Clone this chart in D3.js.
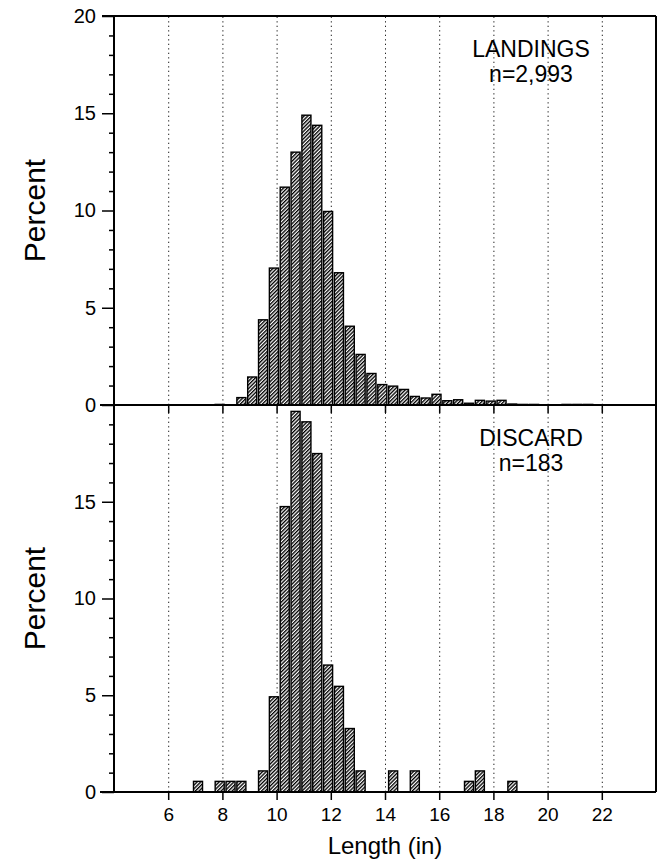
<!DOCTYPE html>
<html><head><meta charset="utf-8">
<script src="https://cdn.jsdelivr.net/npm/d3@7/dist/d3.min.js"></script>
<style>
body{margin:0;background:#fff}
svg text{font-family:"Liberation Sans",Arial,sans-serif;fill:#000}
</style>
</head><body>
<svg id="chart" width="661" height="861"></svg>
<script>
// ---- data ----
const binWidth = 0.4;
const landingsLength = [7.9, 8.7, 9.1, 9.5, 9.9, 10.3, 10.7, 11.1, 11.5, 11.9, 12.3, 12.7, 13.1, 13.5, 13.9, 14.3, 14.7, 15.1, 15.5, 15.9, 16.3, 16.7, 17.1, 17.5, 17.9, 18.3, 18.7, 19.1, 19.5, 20.7, 21.1, 21.5];
const landingsPercent = [0.03, 0.38, 1.44, 4.38, 7.04, 11.2, 13.0, 14.9, 14.38, 9.95, 6.8, 4.05, 2.6, 1.62, 1.05, 0.97, 0.8, 0.44, 0.36, 0.55, 0.22, 0.27, 0.09, 0.24, 0.2, 0.24, 0.05, 0.03, 0.03, 0.03, 0.03, 0.03];
const discardLength = [7.1, 7.9, 8.3, 8.7, 9.5, 9.9, 10.3, 10.7, 11.1, 11.5, 11.9, 12.3, 12.7, 13.1, 14.3, 15.1, 17.1, 17.5, 18.7];
const discardPercent = [0.55, 0.55, 0.55, 0.55, 1.09, 4.92, 14.75, 19.67, 19.13, 17.49, 6.56, 5.46, 3.28, 1.09, 1.09, 1.09, 0.55, 1.09, 0.55];
const xTickValues = [6, 8, 10, 12, 14, 16, 18, 20, 22];
const yMajorTop = [0, 5, 10, 15, 20];
const yMajorBottom = [0, 5, 10, 15];
const yMinor = d3.range(0, 21).filter(v => v % 5 !== 0);
const panelTitle = ["LANDINGS", "DISCARD"];
const panelCount = ["n=2,993", "n=183"];
const xLabel = "Length (in)";
const yLabel = "Percent";

// ---- layout ----
const svg = d3.select("#chart");
const L = 114, R = 656;
const panels = [
  {top: 16, bottom: 405, len: landingsLength, pct: landingsPercent, major: yMajorTop, title: panelTitle[0], n: panelCount[0]},
  {top: 405, bottom: 792, len: discardLength, pct: discardPercent, major: yMajorBottom, title: panelTitle[1], n: panelCount[1]}
];
const x = d3.scaleLinear().domain([4, 24]).range([L, R]);

const defs = svg.append("defs");
const pat = defs.append("pattern").attr("id", "hatch")
  .attr("patternUnits", "userSpaceOnUse").attr("width", 2.6).attr("height", 10)
  .attr("patternTransform", "rotate(45)");
pat.append("rect").attr("width", 2.6).attr("height", 10).attr("fill", "#fff");
pat.append("rect").attr("x", 0).attr("width", 1.35).attr("height", 10).attr("fill", "#000");

panels.forEach((p, i) => {
  const y = d3.scaleLinear().domain([0, 20]).range([p.bottom, p.top]);
  const g = svg.append("g");

  // gridlines
  g.append("g").attr("transform", `translate(0,${p.bottom})`)
    .call(d3.axisBottom(x).tickValues(xTickValues).tickSize(-(p.bottom - p.top)).tickFormat(""))
    .call(a => a.select(".domain").remove())
    .call(a => a.selectAll("line").attr("stroke", "#222").attr("stroke-width", 1).attr("stroke-dasharray", "1.3,3.2"));

  // bars
  const bw = x(binWidth) - x(0);
  g.selectAll("rect.bar").data(p.len.map((d, k) => ({len: d, pct: p.pct[k]}))).join("rect")
    .attr("class", "bar")
    .attr("x", d => x(d.len - binWidth / 2) + 0.9)
    .attr("width", bw - 1.8)
    .attr("y", d => y(d.pct))
    .attr("height", d => Math.max(0.3, y(0) - y(d.pct)))
    .attr("fill", "url(#hatch)")
    .attr("stroke", "#000").attr("stroke-width", 1.4);

  // x axis at the bottom of panel
  const xa = g.append("g").attr("transform", `translate(0,${p.bottom})`)
    .call(d3.axisBottom(x).tickValues(xTickValues).tickSize(8).tickPadding(8).tickFormat(i === 1 ? d3.format("d") : ""));
  xa.select(".domain").attr("stroke-width", 2).attr("d", `M${L - 14},0H${R}`);
  xa.selectAll(".tick line").attr("stroke-width", 1.5);
  xa.selectAll("text").attr("font-size", 19).attr("font-family", "Liberation Sans, Arial, sans-serif");

  // y axis minor
  g.append("g").attr("transform", `translate(${L},0)`)
    .call(d3.axisLeft(y).tickValues(yMinor).tickSize(5).tickFormat(""))
    .call(a => a.select(".domain").remove())
    .call(a => a.selectAll("line").attr("stroke-width", 1.5));
  // y axis major
  const ya = g.append("g").attr("transform", `translate(${L},0)`)
    .call(d3.axisLeft(y).tickValues(p.major).tickSize(12).tickPadding(6));
  ya.select(".domain").attr("stroke-width", 2).attr("d", `M0,${p.bottom}V${p.top}`);
  ya.selectAll(".tick line").attr("stroke-width", 1.5);
  ya.selectAll("text").attr("font-size", 20).attr("font-family", "Liberation Sans, Arial, sans-serif");

  // right border
  g.append("line").attr("x1", R).attr("x2", R).attr("y1", p.top).attr("y2", p.bottom)
    .attr("stroke", "#000").attr("stroke-width", 2);
  if (i === 0) {
    g.append("line").attr("x1", L - 12).attr("x2", R).attr("y1", p.top).attr("y2", p.top)
      .attr("stroke", "#000").attr("stroke-width", 2);
  }

  // titles
  g.append("text").attr("x", 531).attr("y", p.top + 41).attr("text-anchor", "middle")
    .attr("font-size", 23).text(p.title);
  g.append("text").attr("x", 531).attr("y", p.top + 66).attr("text-anchor", "middle")
    .attr("font-size", 23).text(p.n);

  // y label
  g.append("text").attr("transform", `translate(45,${(p.top + p.bottom) / 2}) rotate(-90)`)
    .attr("text-anchor", "middle").attr("font-size", 30).text(yLabel);
});

svg.append("text").attr("x", (L + R) / 2).attr("y", 854).attr("text-anchor", "middle")
  .attr("font-size", 24).text(xLabel);
</script>
</body></html>
